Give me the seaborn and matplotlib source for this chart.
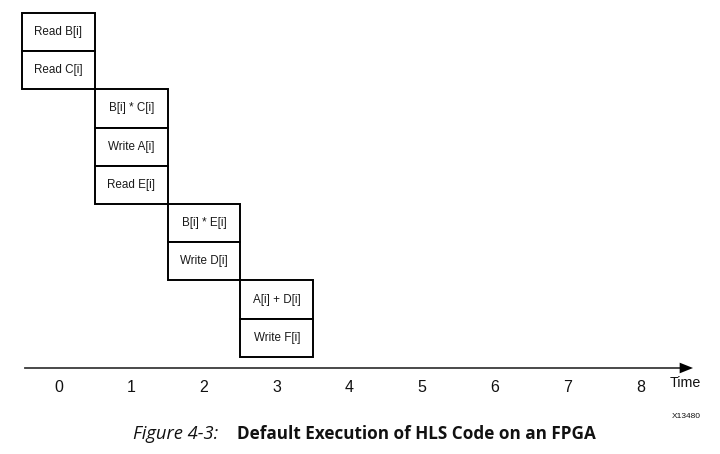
import numpy as np
import matplotlib
matplotlib.use("Agg")
import matplotlib.pyplot as plt
import seaborn as sns

# ---- data ----
operations = ["Read B[i]", "Read C[i]", "B[i] * C[i]", "Write A[i]", "Read E[i]",
              "B[i] * E[i]", "Write D[i]", "A[i] + D[i]", "Write F[i]"]
time_steps = [0, 0, 1, 1, 1, 2, 2, 3, 3]
rows = [0, 1, 2, 3, 4, 5, 6, 7, 8]
time_ticks = [0, 1, 2, 3, 4, 5, 6, 7, 8]
tick_labels = ["0", "1", "2", "3", "4", "5", "6", "7", "8"]
axis_label = "Time"
figure_id = "X13480"
caption_prefix = "Figure 4-3:"
caption_title = "Default Execution of HLS Code on an FPGA"

sns.set_theme(style="white")
plt.rcParams['font.family'] = ['Liberation Sans', 'DejaVu Sans']

W, H = 720, 454
fig = plt.figure(figsize=(W / 100, H / 100), dpi=100)
ax = fig.add_axes([0, 0, 1, 1])

# pixel mapping
x0_px, x_unit = 58.5, 72.75
y0_px, y_unit = 13.0, 38.2
ax.set_xlim(-x0_px / x_unit, (W - x0_px) / x_unit)
ax.set_ylim((H - y0_px) / y_unit, -y0_px / y_unit)

steps = np.array(time_steps, dtype=float)
ax.barh(rows, width=1.0, left=steps - 0.5, height=1.0, align='edge',
        color='white', edgecolor='black', linewidth=1.4, zorder=2)
for op, s, r in zip(operations, time_steps, rows):
    ax.text(s, r + 0.5, op, ha='center', va='center', fontsize=8.4,
            color='#1a1a1a', zorder=3)

# time axis
axis_y = (368 - y0_px) / y_unit
x_start = (25 - x0_px) / x_unit
x_end = (693 - x0_px) / x_unit
for sp in ['top', 'right', 'left']:
    ax.spines[sp].set_visible(False)
ax.spines['bottom'].set_position(('data', axis_y))
ax.spines['bottom'].set_bounds(x_start, x_end - 0.1)
ax.spines['bottom'].set_color('#3a3a3a')
ax.spines['bottom'].set_linewidth(1.3)
ax.set_xticks(time_ticks)
ax.set_xticklabels(tick_labels)
ax.tick_params(axis='x', length=0, pad=8.5, labelsize=11.5, labelcolor='#111111')
ax.set_yticks([])
ax.annotate('', xy=(x_end, axis_y), xytext=(x_end - 0.17, axis_y),
            arrowprops=dict(arrowstyle='-|>,head_length=0.8,head_width=0.32',
                            color='black', lw=0, shrinkA=0, shrinkB=0))

ax.text((685 - x0_px) / x_unit, (383 - y0_px) / y_unit, axis_label,
        ha='center', va='center', fontsize=10.3, color='#111111')
ax.text((686 - x0_px) / x_unit, (417 - y0_px) / y_unit, figure_id,
        ha='center', va='center', fontsize=6, color='#111111')

# caption
cap_y = 1 - 434 / H
fig.text(218 / W, cap_y, caption_prefix, ha='right', va='center',
         fontsize=13.2, style='italic', family='Open Sans', color='#111111')
fig.text(237 / W, cap_y, caption_title, ha='left', va='center',
         fontsize=12.3, weight='bold', family='Open Sans', color='#111111')

fig.savefig('out.png', dpi=100)
